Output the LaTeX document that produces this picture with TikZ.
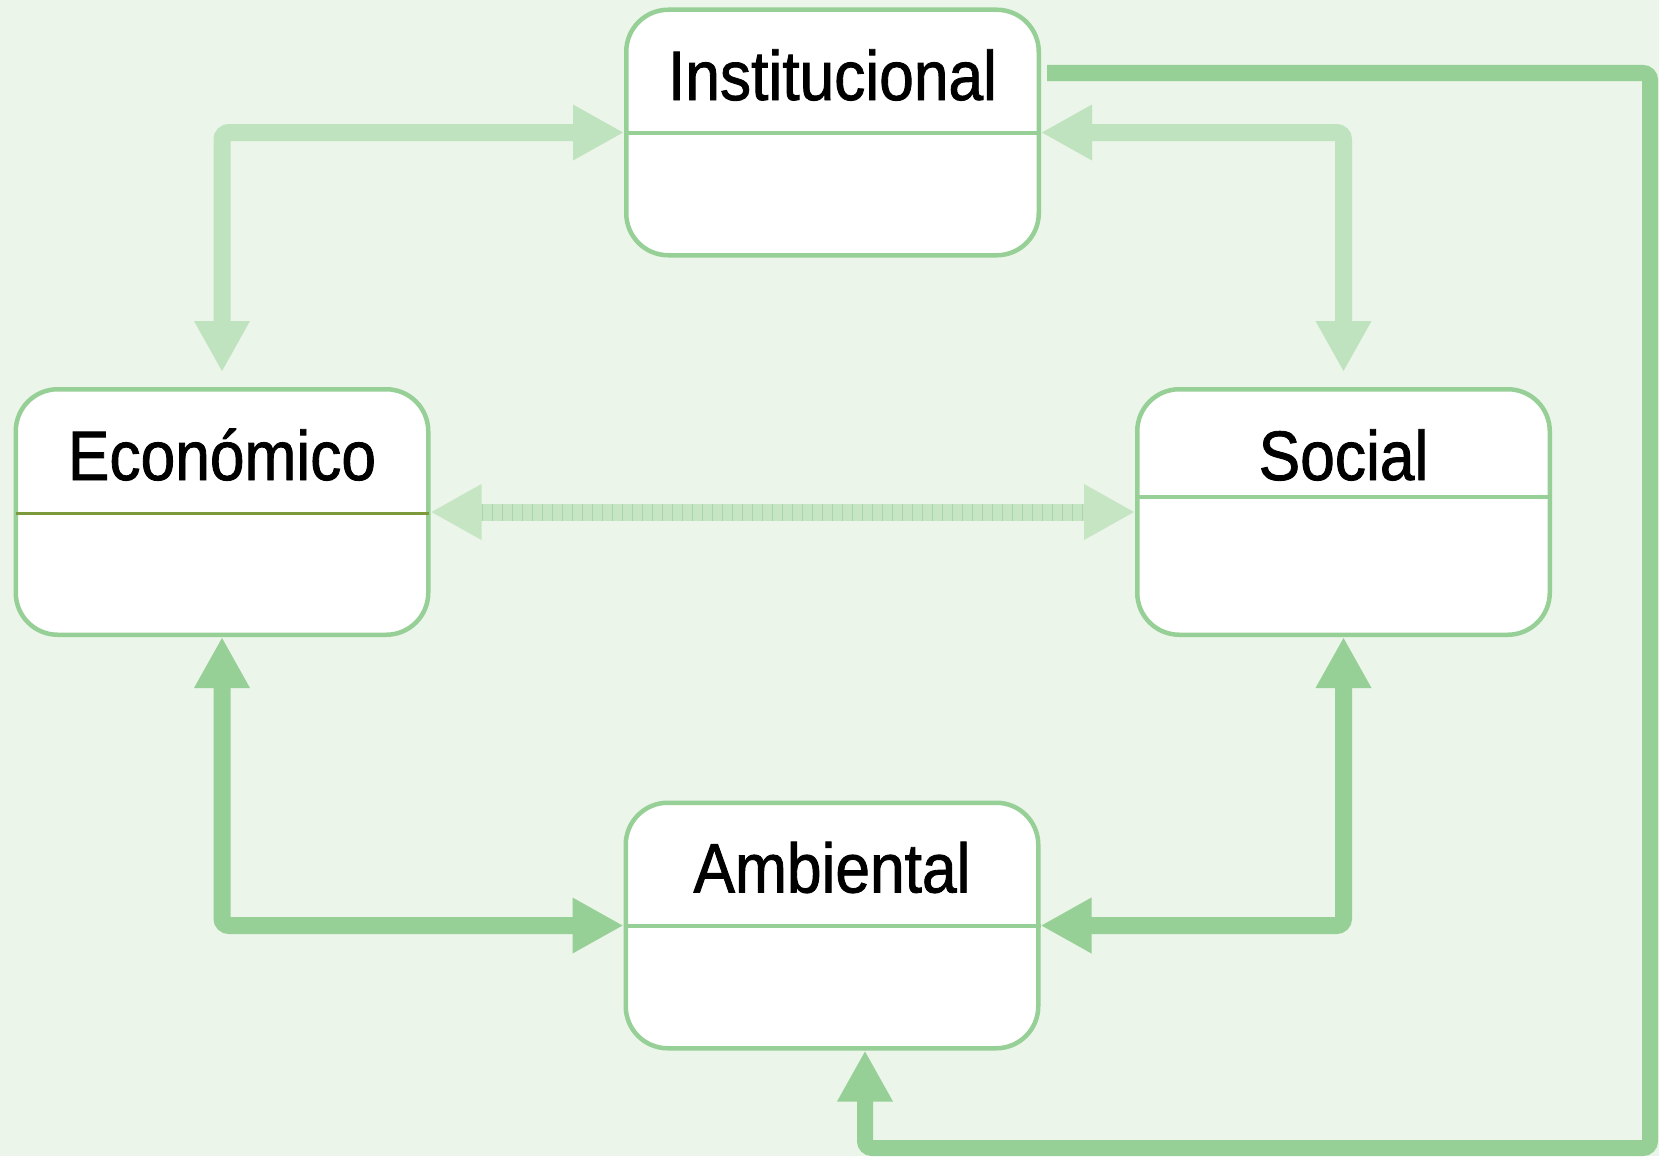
\documentclass[tikz,border=0pt]{standalone}
\usepackage{fontspec}
\newfontfamily\boxfont[FakeStretch=0.89,FakeBold=1.2]{Liberation Sans}
\usetikzlibrary{arrows.meta,calc}
\definecolor{bgc}{HTML}{EBF5E9}
\definecolor{gr}{HTML}{97D097}
\definecolor{lightgr}{HTML}{C0E3BF}
\definecolor{midgr}{HTML}{C6E6C3}
\definecolor{stripegr}{HTML}{ABD7A8}
\definecolor{olivec}{HTML}{7C9A3C}
\tikzset{
  mytip/.tip={Triangle[width=52pt,length=51pt]},
  box/.style={draw=gr, line width=4.5pt, fill=white, rounded corners=42pt,
    minimum width=412.5pt, minimum height=245.5pt, inner sep=0pt, outer sep=2.25pt},
  title/.style={font=\boxfont\fontsize{70}{84}\selectfont, inner sep=0pt, anchor=base, text=black},
  divider/.style={draw=gr, line width=4pt},
  flow/.style={line width=17pt, rounded corners=7pt, line cap=butt},
  lightflow/.style={flow, draw=lightgr, arrows={mytip-mytip}},
  solidflow/.style={flow, draw=gr, arrows={mytip-mytip}},
  loopflow/.style={line width=16pt, rounded corners=7pt, draw=gr, arrows={-mytip}}
}
\begin{document}
\begin{tikzpicture}[x=1pt,y=-1pt]
\fill[bgc] (0,0) rectangle (1659,1156);
\useasboundingbox (0,0) rectangle (1659,1156);

% boxes
\node[box] (inst) at (832.5,132.5) {};
\node[box] (econ) at (222,512) {};
\node[box] (soc) at (1343.5,512) {};
\node[box] (amb) at (832,925.5) {};

% dividers
\draw[divider] (inst.west) -- (inst.east);
\draw[draw=olivec, line width=3pt] ($(econ.west)+(2,1)$) -- ($(econ.east)+(-2,1)$);
\draw[divider] ($(soc.west)+(0,-15)$) -- ($(soc.east)+(0,-15)$);
\draw[divider] (amb.west) -- (amb.east);

% titles
\node[title] (inst-t) at ($(inst.north)+(0,92.5)$) {Institucional};
\node[title] (econ-t) at ($(econ.north)+(0,93)$) {Económico};
\node[title] (soc-t) at ($(soc.north)+(0,93)$) {Social};
\node[title] (amb-t) at ($(amb.north)+(0,92)$) {Ambiental};

% light arrows (top)
\draw[lightflow] ($(econ.north)+(0,-15)$) |- (inst.west);
\draw[lightflow] (inst.east) -| ($(soc.north)+(0,-15)$);

% middle striped arrow
\draw[flow, draw=midgr, arrows={mytip-mytip},
  postaction={draw=stripegr, line width=17pt, dash pattern=on 1.2pt off 8.8pt,
    arrows=-, shorten <=51pt, shorten >=51pt}] (econ.east) -- (soc.west);

% solid arrows (bottom)
\draw[solidflow] (econ.south) |- (amb.west);
\draw[solidflow] (soc.south) |- (amb.east);

% outer loop
\coordinate (loopstart) at ($(inst.east)+(6,-59.5)$);
\coordinate (loopend) at ($(amb.south)+(33,0)$);
\draw[loopflow] (loopstart) -| (1650,1148) -| (loopend);
\end{tikzpicture}
\end{document}
